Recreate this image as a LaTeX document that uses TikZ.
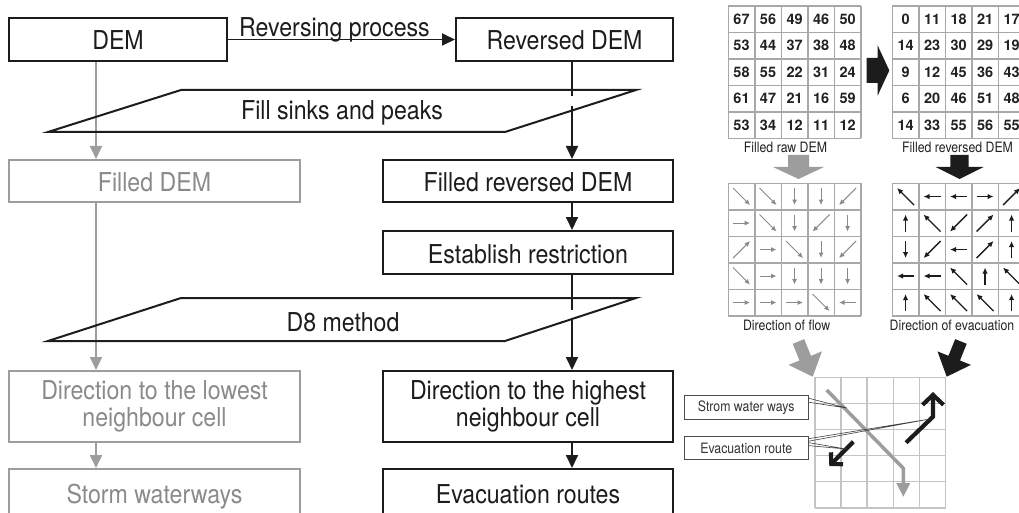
\documentclass[tikz,border=0pt]{standalone}
\usepackage{fontspec}
\setmainfont{TeX Gyre Heros}
\newfontfamily\nar{TeX Gyre Heros}[FakeStretch=0.89]
\newfontfamily\narc{TeX Gyre Heros}[FakeStretch=0.86]
\usetikzlibrary{arrows.meta,calc}
\definecolor{ink}{HTML}{1C1C1C}
\definecolor{gl}{HTML}{9D9D9D}
\definecolor{gt}{HTML}{8A8A8A}
\definecolor{grd}{HTML}{A8A8A8}
\definecolor{grdl}{HTML}{C4C4C4}
\definecolor{numc}{HTML}{222222}
\newcommand\blkarr[8]{%
  \begin{scope}[shift={(#1,#2)},rotate=#3]
    \fill[#8] (0,0) -- (-#5,#6) -- (-#5,#7) -- (-#4,#7) -- (-#4,-#7) -- (-#5,-#7) -- (-#5,-#6) -- cycle;
  \end{scope}}
\newcommand\gridfive[4]{%
  \foreach \gi in {0,...,5}{
    \draw[#4] ({#1+\gi*#3},{#2}) -- ({#1+\gi*#3},{#2+5*#3});
    \draw[#4] ({#1},{#2+\gi*#3}) -- ({#1+5*#3},{#2+\gi*#3});
  }}
\begin{document}
\begin{tikzpicture}[x=1pt,y=-1pt,
  mainfont/.style={font=\nar\fontsize{26}{27.5}\selectfont},
  bbox/.style={draw=ink, line width=2pt, text=ink, inner sep=0pt, mainfont, align=center},
  gbox/.style={bbox, draw=gl, text=gt},
  one/.style={text height=21pt, text depth=0pt},
  barrow/.style={draw=ink, line width=1.8pt, -{Triangle[length=13pt,width=12pt]}},
  garrow/.style={draw=gl, line width=1.8pt, -{Triangle[length=13pt,width=12pt]}},
  para/.style={draw=ink, line width=2pt, line join=miter},
  ptext/.style={mainfont, text=ink, inner sep=0pt},
  gridl/.style={draw=grd, line width=1.5pt},
  gridb/.style={draw=grdl, line width=1.5pt},
  num/.style={font=\bfseries\fontsize{14.5}{15}\selectfont, text=numc, inner sep=0pt},
  capt/.style={font=\narc\fontsize{14.3}{15}\selectfont, text=numc, inner sep=0pt},
  farr/.style={draw=gt, line width=1pt, -{Latex[length=5.5pt,width=5pt]}},
  earr/.style={draw=ink, line width=1.3pt, -{Latex[length=6pt,width=5.5pt]}},
  lbl/.style={draw=black!70, fill=white, line width=1pt, font=\narc\fontsize{14.3}{15}\selectfont, text=black!80, inner sep=0pt},
  leader/.style={draw=black!75, line width=0.6pt},
]
\useasboundingbox (0,0) rectangle (1019,513);
\clip (0,0) rectangle (1019,513);

% ---------- left flowchart ----------
\node[bbox,one,minimum width=218pt,minimum height=43pt] (dem) at (118,39.5) {DEM};
\node[bbox,one,minimum width=217pt,minimum height=43pt] (rev) at (564.5,39.5) {Reversed DEM};
\node[gbox,one,minimum width=291pt,minimum height=42pt] (fdem) at (154.5,181) {Filled DEM};
\node[bbox,one,minimum width=290pt,minimum height=42pt] (frev) at (528,181) {Filled reversed DEM};
\node[bbox,one,minimum width=290pt,minimum height=43pt] (est) at (528,252.5) {Establish restriction};
\node[gbox,minimum width=291pt,minimum height=71pt] (dlow) at (154.5,406.5) {Direction to the lowest\\neighbour cell};
\node[bbox,minimum width=290pt,minimum height=71pt] (dhigh) at (528,406.5) {Direction to the highest\\neighbour cell};
\node[gbox,one,minimum width=291pt,minimum height=48pt] (storm) at (154.5,493) {Storm waterways};
\node[bbox,one,minimum width=290pt,minimum height=48pt] (evac) at (528,493) {Evacuation routes};

\coordinate (gx) at (96,0);
\coordinate (bx) at (572,0);

\draw[barrow] (dem.east) -- node[midway, anchor=base, yshift=2.5pt, xshift=-7pt, mainfont, text=ink, inner sep=0pt] (revlab) {Reversing process} (rev.west);

\draw[garrow] (dem.south -| gx) -- (fdem.north -| gx);
\draw[garrow] (fdem.south -| gx) -- (dlow.north -| gx);
\draw[garrow] (dlow.south -| gx) -- (storm.north -| gx);
\draw[barrow] (rev.south -| bx) -- (frev.north -| bx);
\draw[barrow] (frev.south -| bx) -- (est.north -| bx);
\draw[barrow] (est.south -| bx) -- (dhigh.north -| bx);
\draw[barrow] (dhigh.south -| bx) -- (evac.north -| bx);
\draw[white, line width=3pt] (572,96) -- (572,106.5);
\draw[white, line width=3pt] (572,310) -- (572,318);

\draw[para] (181,90) -- (636,90) -- (505,132) -- (48,132) -- cycle;
\node[ptext, anchor=base] (fillp) at (342,120) {Fill sinks and peaks};
\draw[para] (181,298) -- (636,298) -- (505,341) -- (48,341) -- cycle;
\node[ptext, anchor=base] (d8) at (343,331.5) {D8 method};

% ---------- right: grids ----------
\gridfive{728.3}{6}{26.5}{gridl}
\gridfive{892.3}{6}{26.5}{gridl}
\gridfive{728.3}{183.3}{26.5}{gridl}
\gridfive{892.3}{183.3}{26.5}{gridl}

\foreach \rowv [count=\r from 0] in {{67,56,49,46,50},{53,44,37,38,48},{58,55,22,31,24},{61,47,21,16,59},{53,34,12,11,12}}{
  \foreach \v [count=\c from 0] in \rowv {
    \node[num] (a\r\c) at ({728.3+(\c+0.5)*26.5},{6+(\r+0.5)*26.5}) {\v};
  }}
\foreach \rowv [count=\r from 0] in {{0,11,18,21,17},{14,23,30,29,19},{9,12,45,36,43},{6,20,46,51,48},{14,33,55,56,55}}{
  \foreach \v [count=\c from 0] in \rowv {
    \node[num] (b\r\c) at ({892.3+(\c+0.5)*26.5},{6+(\r+0.5)*26.5}) {\v};
  }}

\foreach \rowv [count=\r from 0] in {{1/1,1/1,0/1,0/1,-1/1},{1/0,1/1,0/1,-1/1,0/1},{1/-1,1/0,1/1,0/1,-1/1},{1/1,1/0,0/1,0/1,0/1},{1/0,1/0,1/0,1/1,-1/0}}{
  \foreach \dx/\dy [count=\c from 0] in \rowv {
    \draw[farr] ({728.3+(\c+0.5)*26.5-(\dx)*8.5},{183.3+(\r+0.5)*26.5-(\dy)*8.5}) -- ++({(\dx)*17},{(\dy)*17});
  }}
\foreach \rowv [count=\r from 0] in {{-1/-1,-1/0,-1/0,1/0,1/-1},{0/-1,-1/-1,-1/1,1/-1,0/-1},{0/1,-1/1,-1/0,1/-1,0/-1},{-1/0,-1/0,-1/-1,0/-1,-1/-1},{0/-1,-1/-1,-1/-1,-1/-1,0/-1}}{
  \foreach \dx/\dy [count=\c from 0] in \rowv {
    \draw[earr] ({892.3+(\c+0.5)*26.5-(\dx)*8.5},{183.3+(\r+0.5)*26.5-(\dy)*8.5}) -- ++({(\dx)*17},{(\dy)*17});
  }}

\node[capt] (c1) at (785.5,147.5) {Filled raw DEM};
\node[capt] (c2) at (957.5,147.5) {Filled reversed DEM};
\node[capt] (c3) at (786.7,325) {Direction of flow};
\node[capt] (c4) at (952,325) {Direction of evacuation};

% block arrows
\blkarr{889.3}{70.5}{0}{22.6}{11.6}{25}{12.5}{ink}
\blkarr{798.5}{179}{-90}{24}{12}{25.5}{10.5}{gl}
\blkarr{959.5}{179}{-90}{24}{12}{24}{9.2}{ink}
\blkarr{812.7}{376.7}{-68}{38}{20}{18}{6.2}{gl}
\blkarr{946.7}{376.7}{-112}{38}{20}{18}{6.2}{ink}

% ---------- bottom grid ----------
\gridfive{815}{377.3}{26.1}{gridb}
\coordinate (sw1) at (826.7,390);
\coordinate (sw2) at (903.3,468.3);
\coordinate (sw3) at (903.3,497);
\draw[draw=gl, line width=3.5pt, -{Triangle[length=14pt,width=13pt]}] (sw1) -- (sw2) -- (sw3);
\coordinate (ea1) at (906,442.7);
\coordinate (ea2) at (933,416.7);
\coordinate (ea3) at (933,392);
\draw[draw=ink, line width=4.2pt, -{Straight Barb[length=10pt,width=21pt]}] (ea1) -- (ea2) -- (ea3);
\coordinate (eb1) at (853.3,441.7);
\coordinate (eb2) at (829.3,466);
\draw[draw=ink, line width=4.2pt, -{Straight Barb[length=8pt,width=17pt]}] (eb1) -- (eb2);

\node[lbl, minimum width=124.3pt, minimum height=24pt] (swlab) at (746.2,407.8) {Strom water ways};
\node[lbl, minimum width=124.3pt, minimum height=23.3pt] (evlab) at (746.2,448.3) {Evacuation route};
\coordinate (swp) at (846.7,408);
\coordinate (ev1) at (930,419);
\coordinate (ev2) at (846,449);
\draw[leader] ($(swlab.north east)+(0,3)$) -- (swp) -- ($(swlab.north east)+(0,7)$);
\draw[leader] ($(evlab.north east)+(0,2.5)$) -- (ev1) -- ($(evlab.north east)+(0,5)$);
\draw[leader] ($(evlab.north east)+(0,6.5)$) -- (ev2) -- ($(evlab.north east)+(0,9.5)$);
\end{tikzpicture}
\end{document}
